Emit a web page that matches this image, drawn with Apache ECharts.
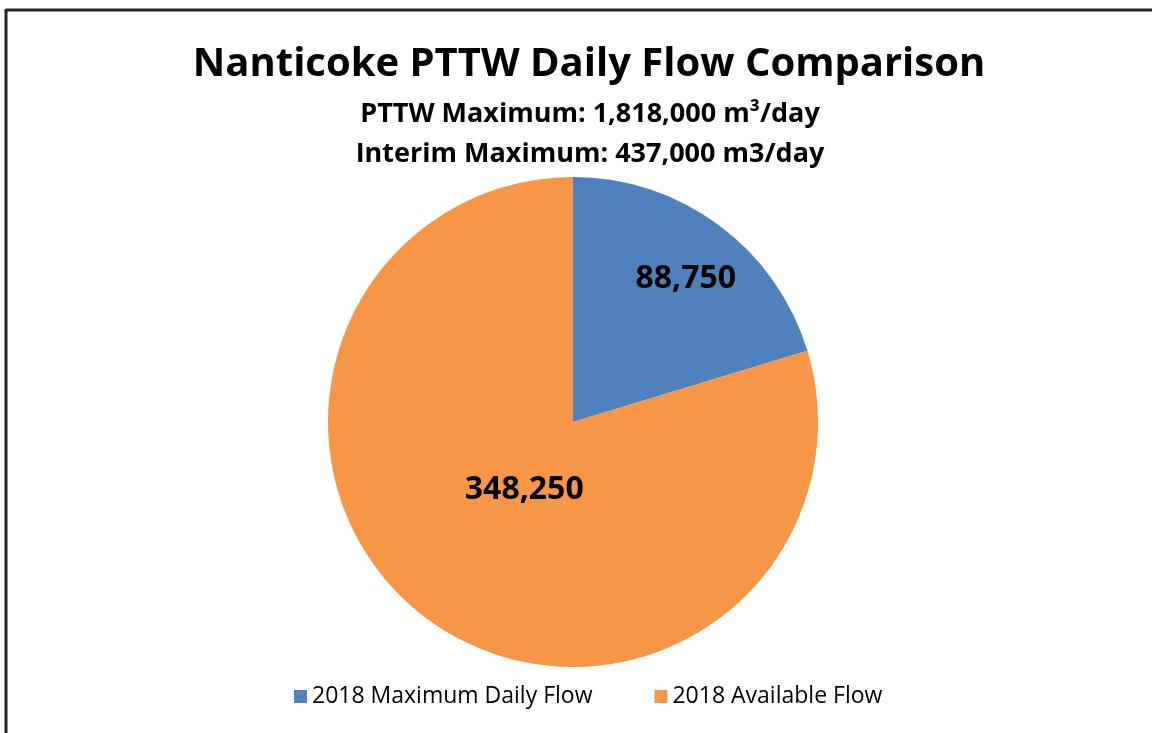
<!DOCTYPE html>
<html>
<head>
<meta charset="utf-8">
<script src="https://cdn.jsdelivr.net/npm/echarts@6/dist/echarts.min.js"></script>
<style>
  html, body { margin: 0; padding: 0; background: #fff; }
  #chart { width: 1152px; height: 733px; }
</style>
</head>
<body>
<div id="chart"></div>
<script>
var categories = ['2018 Maximum Daily Flow', '2018 Available Flow'];
var flows = [88750, 348250];
var colors = ['#4F81BD', '#F79646'];
// Excel puts its labels off the plain mid-radius spot, nudge them
var labelShift = [[38, -42], [26, -33]];

var font = 'Open Sans';
var chart = echarts.init(document.getElementById('chart'));

var pieData = [];
for (var i = 0; i < categories.length; i++) {
    pieData.push({
        name: categories[i],
        value: flows[i],
        itemStyle: { color: colors[i] },
        label: { offset: labelShift[i] }
    });
}

var option = {
    backgroundColor: '#fff',
    animation: false,
    textStyle: { fontFamily: font },
    title: [{
        text: 'Nanticoke PTTW Daily Flow Comparison',
        left: 584, top: 40, textAlign: 'center',
        textStyle: { fontFamily: font, fontSize: 40, fontWeight: 'bold', color: '#000' }
    }, {
        text: 'PTTW Maximum: 1,818,000 m³/day',
        left: 585, top: 96, textAlign: 'center',
        textStyle: { fontFamily: font, fontSize: 27, fontWeight: 'bold', color: '#000' }
    }, {
        text: 'Interim Maximum: 437,000 m3/day',
        left: 585, top: 136, textAlign: 'center',
        textStyle: { fontFamily: font, fontSize: 27, fontWeight: 'bold', color: '#000' }
    }],
    legend: {
        bottom: 20,
        left: 289,
        padding: [5, 5, 5, 5],
        icon: 'rect',
        itemWidth: 13,
        itemHeight: 13,
        itemGap: 62,
        data: categories,
        textStyle: { fontFamily: font, fontSize: 23, color: '#000' }
    },
    graphic: [
        { type: 'line', shape: { x1: 6, y1: 10, x2: 1152, y2: 10 }, style: { stroke: '#222', lineWidth: 3 } },
        { type: 'line', shape: { x1: 6, y1: 9, x2: 6, y2: 733 }, style: { stroke: '#222', lineWidth: 3 } }
    ],
    series: [{
        type: 'pie',
        center: [573, 422],
        radius: 245,
        startAngle: 90,
        clockwise: true,
        label: {
            show: true,
            position: 'inside',
            fontFamily: font,
            fontSize: 32,
            fontWeight: 'bold',
            color: '#000',
            formatter: function (p) { return p.value.toLocaleString('en-US'); }
        },
        labelLine: { show: false },
        emphasis: { disabled: true },
        itemStyle: { borderWidth: 0 },
        data: pieData
    }]
};
chart.setOption(option);
</script>
</body>
</html>
